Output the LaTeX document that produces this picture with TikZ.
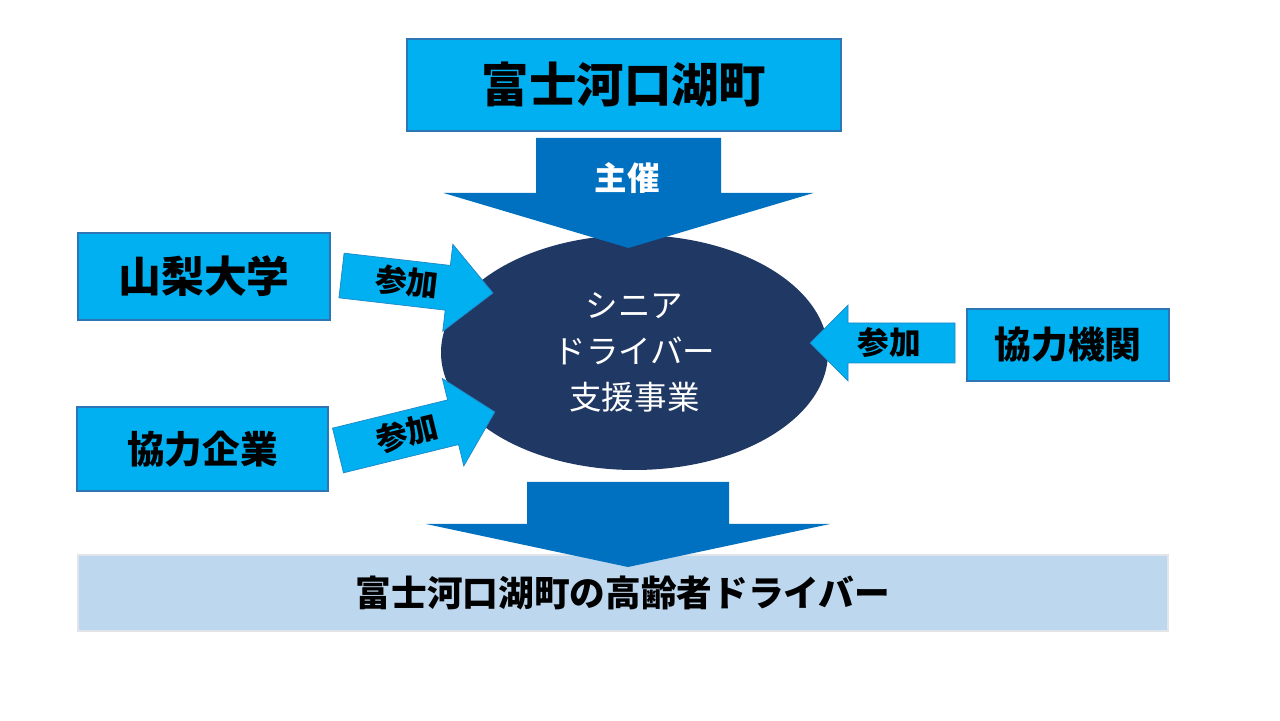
\documentclass[tikz,border=0pt]{standalone}
\usepackage{fontspec}
\newfontfamily\jpfont{Noto Sans CJK JP}
\usepackage{xcolor}
\usepackage{tikz}
\usetikzlibrary{shapes.geometric, positioning, calc}

\definecolor{orgcyan}{HTML}{00B0F0}
\definecolor{orgedge}{HTML}{2E75B6}
\definecolor{hostblue}{HTML}{0070C0}
\definecolor{projnavy}{HTML}{203864}
\definecolor{targetfill}{HTML}{BDD7EE}
\definecolor{targetedge}{HTML}{E1E4E8}

\tikzset{
  orgbox/.style={
    draw=orgedge, line width=1pt, fill=orgcyan, align=center,
    inner sep=0pt, font=\jpfont\bfseries
  },
  projoval/.style={
    ellipse, fill=projnavy, inner sep=0pt, align=center,
    text=white, font=\jpfont\fontsize{18.5}{26}\selectfont
  },
  targetbox/.style={
    draw=targetedge, line width=1pt, fill=targetfill, align=center,
    inner sep=0pt, font=\jpfont\bfseries\fontsize{20.3}{24}\selectfont
  },
  hostarrow/.style={fill=hostblue},
  joinarrow/.style={fill=orgcyan, draw=orgedge!70!orgcyan, line width=0.4pt},
  arrowlabel/.style={
    font=\jpfont\bfseries\fontsize{18}{20}\selectfont, inner sep=0pt
  },
}

% block arrow: style, tail, angle, length, shaft half, head half, head length
\newcommand{\fatarrow}[7]{%
  \begin{scope}[shift={#2}, rotate=#3]
    \fill[#1] (0,-#5) -- ({#4-#7},-#5) -- ({#4-#7},-#6) -- (#4,0)
      -- ({#4-#7},#6) -- ({#4-#7},#5) -- (0,#5) -- cycle;
  \end{scope}}

\begin{document}
\begin{tikzpicture}
  \useasboundingbox[fill=white] (0,0) rectangle (25.6,14.4);

  % Host town
  \node[orgbox, minimum width=8.68cm, minimum height=1.84cm,
    font=\jpfont\bfseries\fontsize{27}{32}\selectfont]
    (town) at (12.48,12.70) {富士河口湖町};

  % Project
  \node[projoval, minimum width=7.74cm, minimum height=4.70cm]
    (proj) at (12.69,7.35) {シニア\\ドライバー\\支援事業};

  % Partners
  \node[orgbox, minimum width=5.04cm, minimum height=1.74cm,
    font=\jpfont\bfseries\fontsize{24.4}{28}\selectfont]
    (univ) at (4.08,8.87) {山梨大学};
  \node[orgbox, minimum width=5.02cm, minimum height=1.68cm,
    font=\jpfont\bfseries\fontsize{21.4}{26}\selectfont]
    (corp) at (4.05,5.42) {協力企業};
  \node[orgbox, minimum width=4.04cm, minimum height=1.44cm,
    font=\jpfont\bfseries\fontsize{21}{26}\selectfont]
    (inst) at (21.36,7.50) {協力機関};

  % Target group
  \node[targetbox, minimum width=21.8cm, minimum height=1.52cm]
    (drivers) at (12.46,2.54) {富士河口湖町の高齢者ドライバー};

  % Arrow tails
  \coordinate (hostTail) at (12.57,11.64);
  \coordinate (univTail) at (6.83,8.89);
  \coordinate (corpTail) at (6.76,5.39);
  \coordinate (instTail) at (19.10,7.54);
  \coordinate (outTail) at (12.56,4.76);

  % Arrows into the project
  \fatarrow{hostarrow}{(hostTail)}{-90}{2.2}{1.85}{3.7}{1.1}
  \node[arrowlabel, text=white, font=\jpfont\bfseries\fontsize{18.5}{20}\selectfont]
    (host) at (12.54,10.84) {主催};

  \fatarrow{joinarrow}{(univTail)}{-6.6}{3.05}{0.45}{0.876}{0.91}
  \node[arrowlabel, rotate=-6.6] (univJoin) at (8.14,8.76) {参加};

  \fatarrow{joinarrow}{(corpTail)}{13.8}{3.23}{0.46}{0.90}{0.86}
  \node[arrowlabel, rotate=13.8] (corpJoin) at (8.14,5.74) {参加};

  \fatarrow{joinarrow}{(instTail)}{180}{2.9}{0.40}{0.76}{0.76}
  \node[arrowlabel] (instJoin) at (17.78,7.56) {参加};

  % Arrow to the target group
  \fatarrow{hostarrow}{(outTail)}{-90}{1.70}{2.02}{4.04}{0.86}
\end{tikzpicture}
\end{document}
